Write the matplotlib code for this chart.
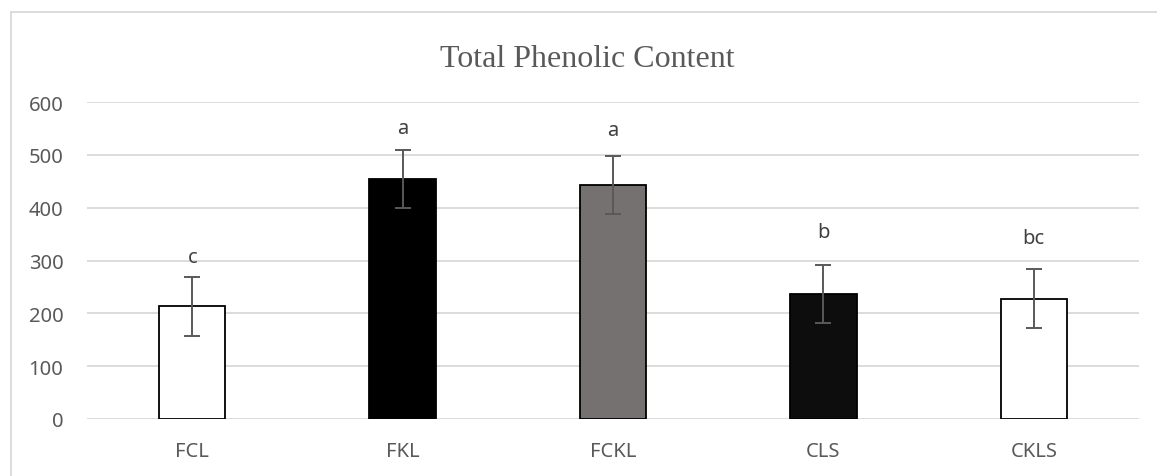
import matplotlib.pyplot as plt
from matplotlib.lines import Line2D

# Datos
muestras = ["FCL", "FKL", "FCKL", "CLS", "CKLS"]
fenoles = [213, 455, 443, 237, 228]
errores = [55, 55, 55, 55, 55]
letras = ["c", "a", "a", "b", "bc"]
altura_letras = [306, 550, 548, 354, 342]
colores = ["#ffffff", "#000000", "#767171", "#0d0d0d", "#ffffff"]

gris_texto = "#595959"
gris_rejilla = "#d9d9d9"

fig = plt.figure(figsize=(11.57, 4.77), dpi=100)
ax = fig.add_axes([0.0752, 0.1195, 0.9092, 0.6645])

x = list(range(len(muestras)))
ax.bar(x, fenoles, width=0.315, color=colores, edgecolor="black",
       linewidth=1.3, zorder=3)
ax.errorbar(x, fenoles, yerr=errores, fmt="none", ecolor=gris_texto,
            elinewidth=1.4, capsize=6, capthick=1.4, zorder=4)

for xi, letra, h in zip(x, letras, altura_letras):
    ax.text(xi, h, letra, ha="center", va="center", fontsize=14.5,
            color="#404040", family="Noto Sans")

ax.set_xlim(-0.5, 4.5)
ax.set_ylim(0, 600)
ax.set_yticks(range(0, 601, 100))
ax.set_xticks(x)
ax.set_xticklabels(muestras)
ax.yaxis.grid(True, color=gris_rejilla, linewidth=1.3, zorder=0)
ax.set_axisbelow(True)
for s in ax.spines.values():
    s.set_visible(False)
ax.tick_params(axis="both", length=0, labelsize=14.5, labelcolor=gris_texto)
ax.tick_params(axis="y", pad=17)
ax.tick_params(axis="x", pad=16)
for lab in ax.get_xticklabels() + ax.get_yticklabels():
    lab.set_family("Noto Sans")

fig.text(0.508, 0.875, "Total Phenolic Content", ha="center", va="center",
         fontsize=23, color=gris_texto, family="Liberation Serif")

# Borde del area del grafico
fig.add_artist(Line2D([0.0095, 1.0], [0.9727, 0.9727], color=gris_rejilla,
                      linewidth=1.3))
fig.add_artist(Line2D([0.0095, 0.0095], [0.0, 0.9727], color=gris_rejilla,
                      linewidth=1.3))

plt.savefig("out.png", dpi=100)
